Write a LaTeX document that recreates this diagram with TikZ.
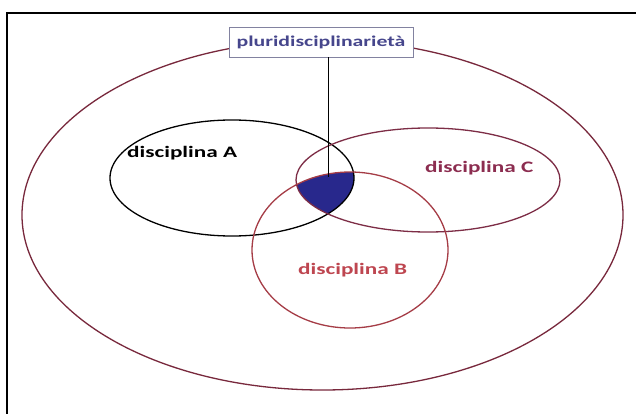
\documentclass[tikz,border=0pt]{standalone}
\usepackage{fontspec}
\setsansfont{Carlito}[FakeStretch=1.45]
\definecolor{outerc}{RGB}{120,40,60}
\definecolor{cc}{RGB}{125,45,70}
\definecolor{bc}{RGB}{165,60,70}
\definecolor{btext}{RGB}{190,70,80}
\definecolor{ctext}{RGB}{140,45,80}
\definecolor{ptext}{RGB}{70,70,140}
\definecolor{boxc}{RGB}{130,130,160}
\definecolor{fillc}{RGB}{40,40,140}
\tikzset{
  lbl/.style={font=\sffamily\bfseries\fontsize{16}{18}\selectfont, inner sep=0pt},
  ring/.style={line width=1.3pt}
}
\begin{document}
\begin{tikzpicture}[x=1pt,y=-1pt]
\useasboundingbox (0,0) rectangle (636,414);
\fill[white] (0,0) rectangle (636,414);
% frame
\draw[line width=2pt] (7,414) -- (7,13) -- (636,13);
% blue intersection
\begin{scope}
  \clip (232,178) ellipse [x radius=122, y radius=58];
  \clip (428,180) ellipse [x radius=132, y radius=52];
  \fill[fillc] (350,250) ellipse [x radius=98, y radius=78];
\end{scope}
% ellipses
\draw[ring, outerc] (322.5,215) ellipse [x radius=300.5, y radius=175];
\draw[ring, black] (232,178) ellipse [x radius=122, y radius=58];
\draw[ring, cc] (428,180) ellipse [x radius=132, y radius=52];
\draw[ring, bc] (350,250) ellipse [x radius=98, y radius=78];
% labels
\node[lbl, black, anchor=west] (la) at (127,153) {disciplina A};
\node[lbl, ctext, anchor=west] (lc) at (425,168) {disciplina C};
\node[lbl, btext, anchor=west] (lb) at (298,270) {disciplina B};
% box
\node[draw=boxc, fill=white, line width=0.8pt, minimum width=184pt, minimum height=30pt,
      font=\sffamily\bfseries\fontsize{15}{17}\selectfont, text=ptext, inner sep=0pt]
      (pl) at (321,42) {pluridisciplinarietà};
\coordinate (tip) at (328,177);
\draw[line width=1pt] (pl.south -| tip) -- (tip);
\end{tikzpicture}
\end{document}
